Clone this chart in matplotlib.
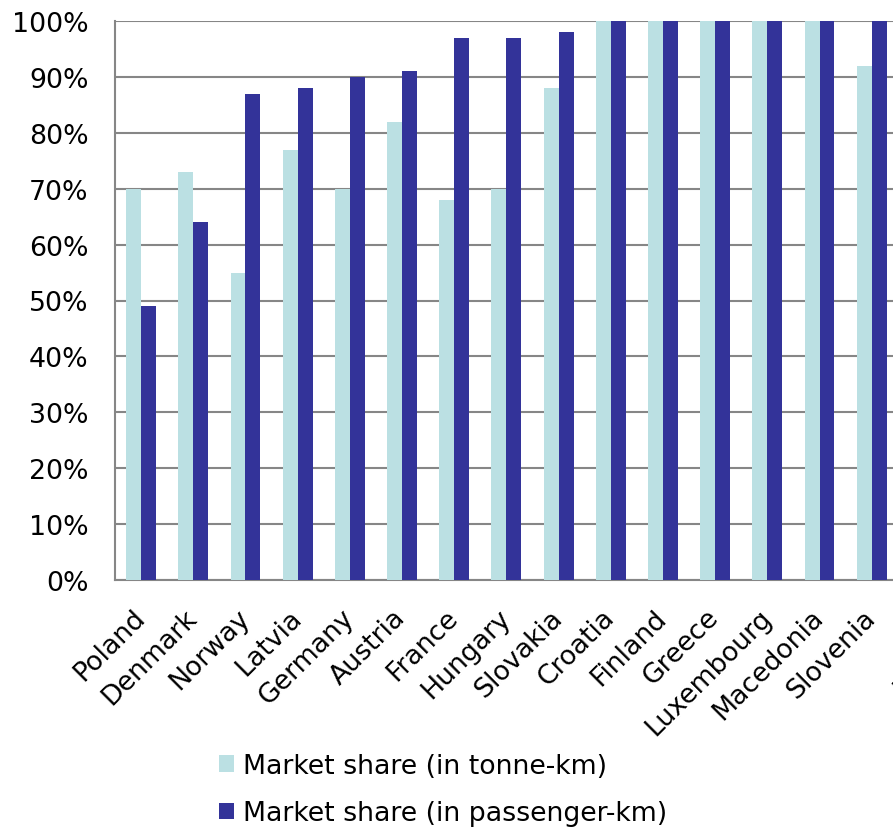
import matplotlib
matplotlib.use("Agg")
import matplotlib.pyplot as plt
import numpy as np

# 데이터 (그림에서 읽은 값, 오른쪽 끝은 잘려 있음)
countries = ["Poland", "Denmark", "Norway", "Latvia", "Germany", "Austria", "France",
             "Hungary", "Slovakia", "Croatia", "Finland", "Greece", "Luxembourg",
             "Macedonia", "Slovenia", "", "Portugal"]
tonne_km = [70, 73, 55, 77, 70, 82, 68, 70, 88, 100, 100, 100, 100, 100, 92, 100, 100]
passenger_km = [49, 64, 87, 88, 90, 91, 97, 97, 98, 100, 100, 100, 100, 100, 100, 100, 100]

light = "#BBE0E3"
dark = "#333399"
grid_col = "#868686"

plt.rcParams['font.family'] = ['DejaVu Sans']
fs = 19.3

fig = plt.figure(figsize=(8.93, 8.29), dpi=100)
# 축은 그림 오른쪽 밖으로 이어짐 (원본처럼 잘리게)
ax = fig.add_axes([115 / 893, 1 - 581 / 829, 835 / 893 * 17 / 16, 559 / 829])

x = np.arange(len(countries))
w = 0.286
ax.bar(x - w / 2, tonne_km, w, color=light, label="Market share (in tonne-km)", zorder=3)
ax.bar(x + w / 2, passenger_km, w, color=dark, label="Market share (in passenger-km)", zorder=3)

ax.set_xlim(-0.5, len(countries) - 0.5)
ax.set_ylim(0, 100)
ax.set_yticks(np.arange(0, 101, 10))
ax.set_yticklabels([f"{v}%" for v in range(0, 101, 10)], fontsize=fs)
ax.yaxis.grid(True, color=grid_col, linewidth=1.5, zorder=0)
ax.set_axisbelow(True)

ax.set_xticks(x)
ax.set_xticklabels(countries, fontsize=fs, rotation=45, ha="right", va="center",
                   rotation_mode="anchor")
ax.tick_params(axis="y", length=0, pad=19)
ax.tick_params(axis="x", length=0, pad=24)

for side in ["top", "right"]:
    ax.spines[side].set_visible(False)
for side in ["left", "bottom"]:
    ax.spines[side].set_color(grid_col)
    ax.spines[side].set_linewidth(1.5)

fig.legend(loc="upper left", bbox_to_anchor=(219 / 893, 1 - 754 / 829),
           frameon=False, fontsize=fs, handlelength=0.55, handleheight=0.55,
           handletextpad=0.35, labelspacing=0.8, borderpad=0, borderaxespad=0)

fig.savefig("out.png", dpi=100)
